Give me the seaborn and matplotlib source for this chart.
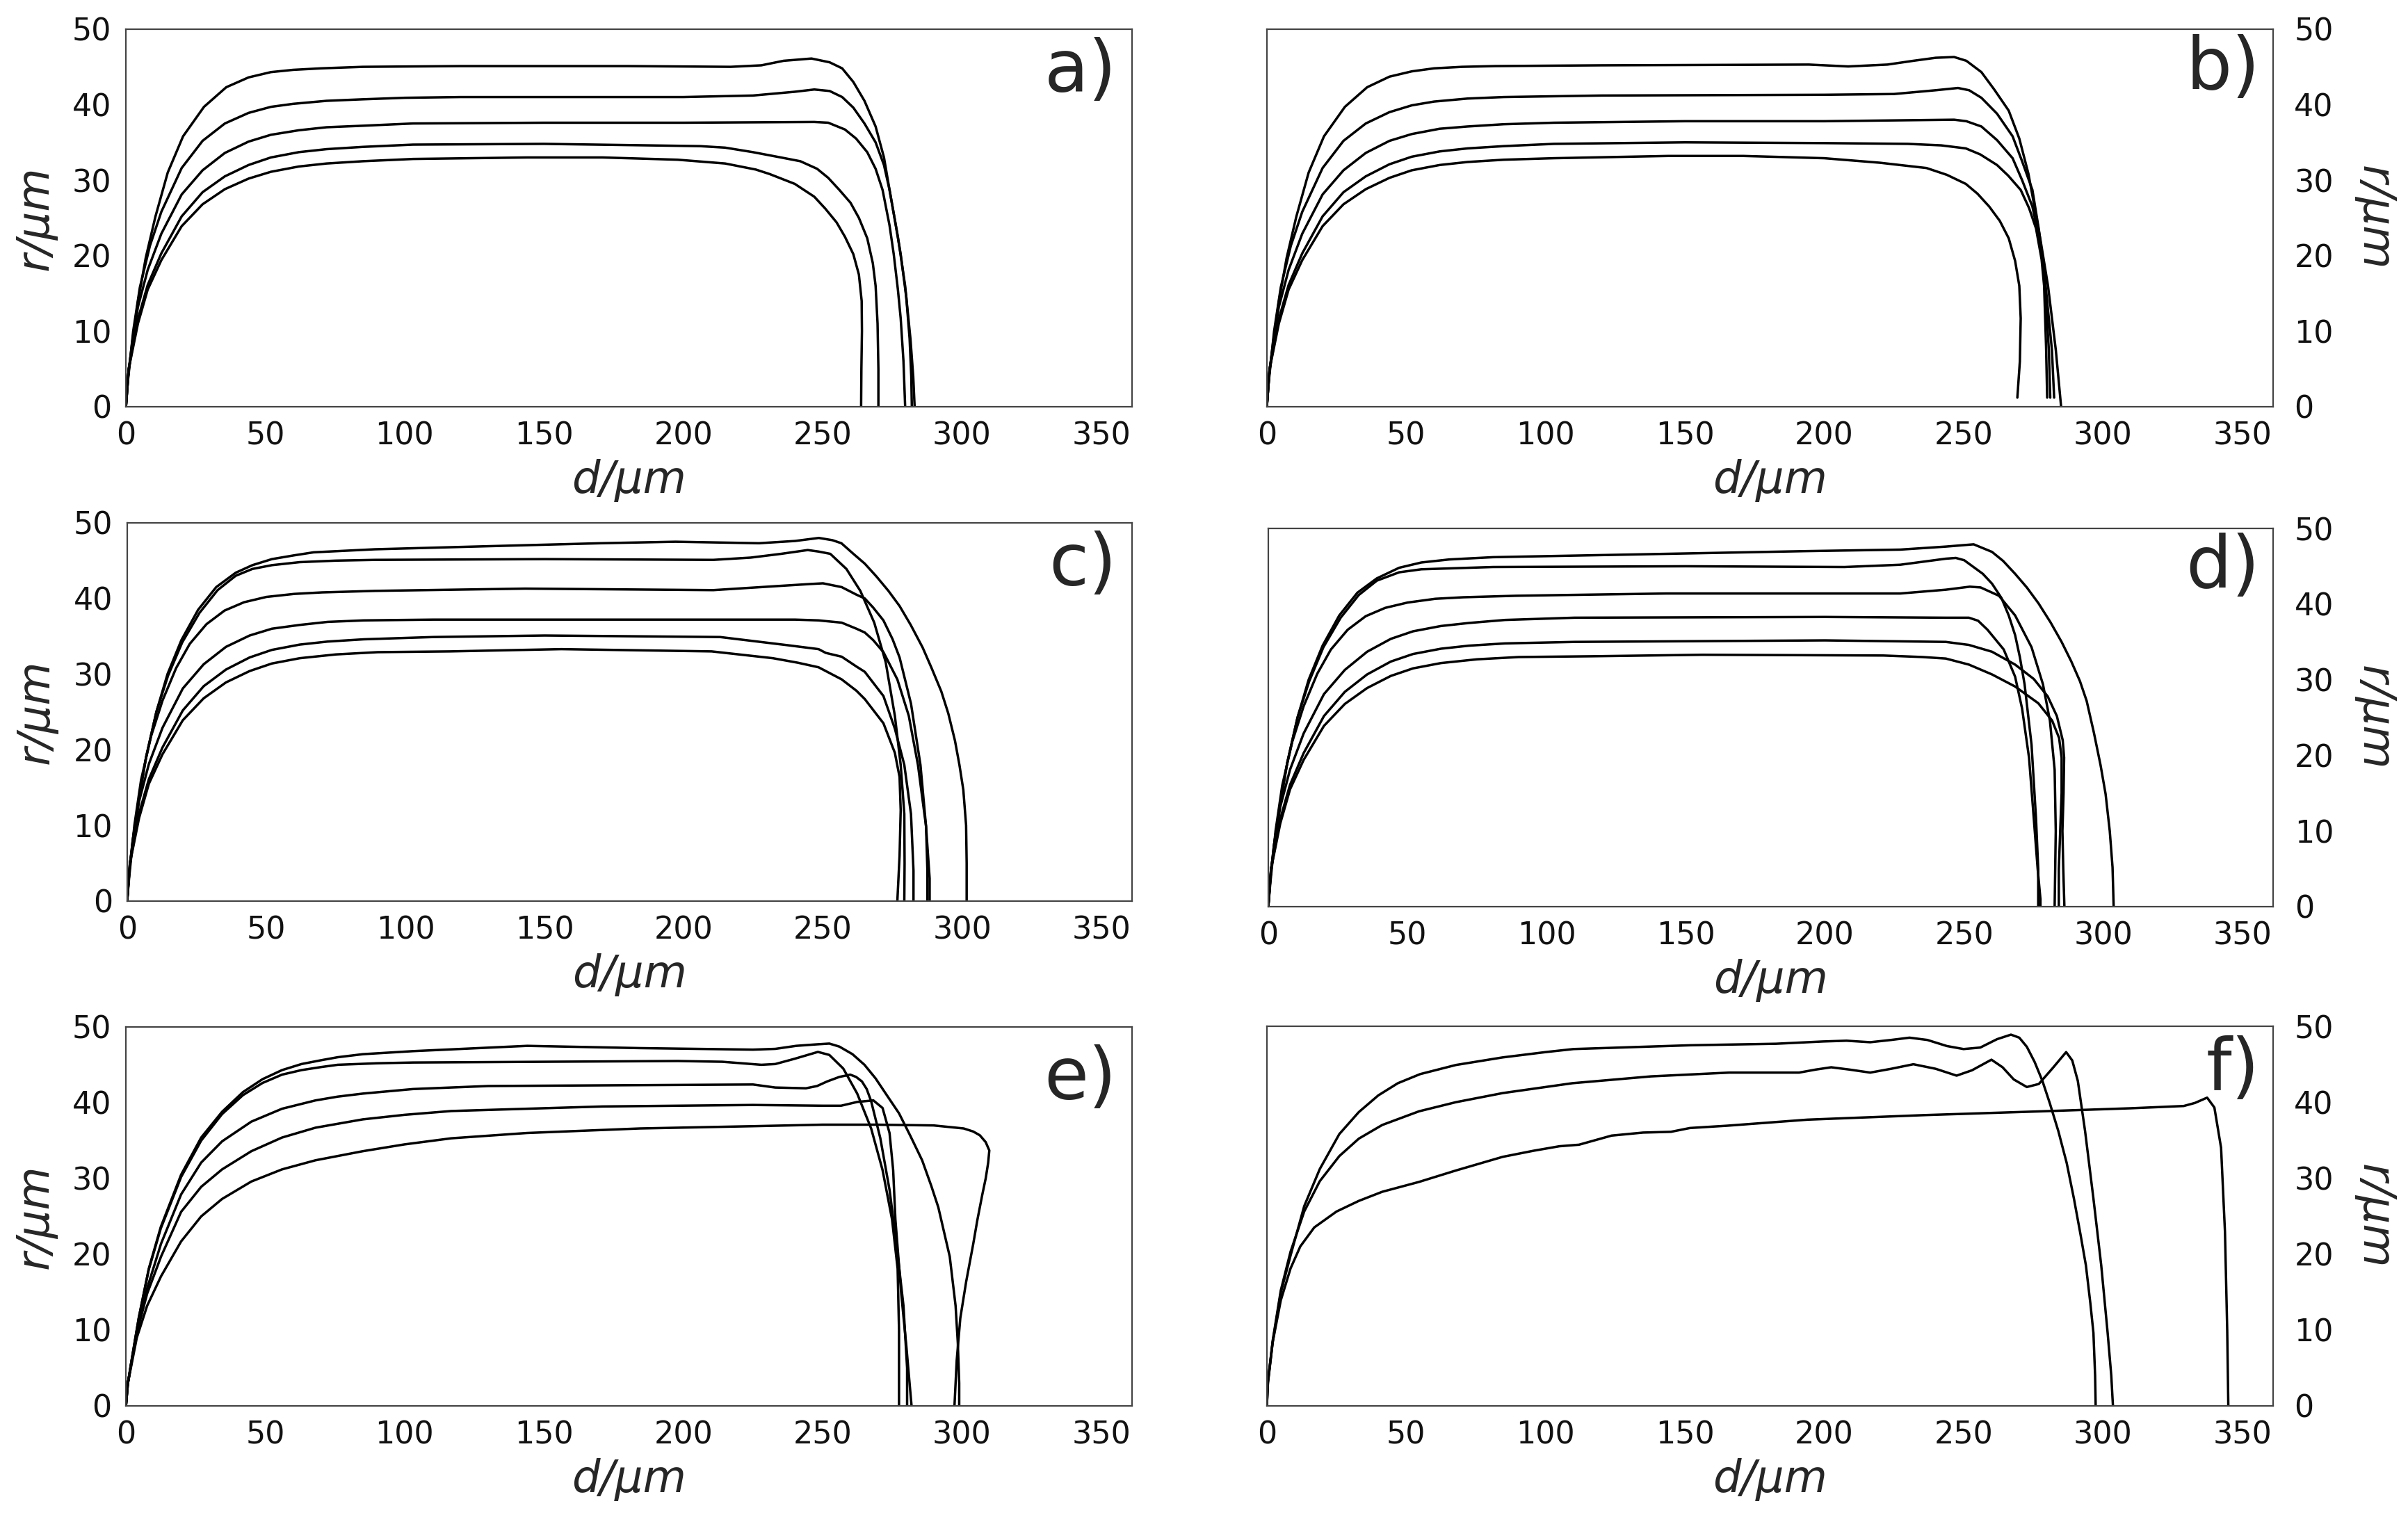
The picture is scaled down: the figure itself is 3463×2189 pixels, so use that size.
import matplotlib
matplotlib.use("Agg")
import matplotlib.pyplot as plt
import seaborn as sns


# ---- panel a -------------------------------------------------------------
A1_D = [0, 0.5, 2.2, 4.3, 7.1, 10.6, 15, 20.5, 28, 36, 44, 52, 60, 70, 85, 120, 180, 217, 228, 236, 246, 252.5, 257, 261, 265, 269, 272, 274, 277, 279.6, 281.5, 282.5, 283]
A1_R = [0, 3.2, 8.4, 13.9, 19.7, 25.2, 31, 35.8, 39.7, 42.3, 43.6, 44.3, 44.6, 44.8, 45.0, 45.1, 45.1, 45.0, 45.2, 45.8, 46.1, 45.6, 44.8, 43, 40.5, 37.1, 33, 28.7, 22.5, 16, 9, 4, 0]
A2_D = [0, 0.6, 2.6, 5, 8.6, 12.7, 20, 27.5, 35.5, 44, 52, 60, 72, 85, 100, 120, 200, 225, 240, 247, 252.5, 257, 261, 265, 269, 272, 274, 276, 278, 280, 281.2, 281.8, 282]
A2_R = [0, 3, 10, 15.8, 21.3, 25.8, 31.6, 35.2, 37.5, 38.9, 39.7, 40.1, 40.5, 40.7, 40.9, 41, 41, 41.2, 41.7, 42, 41.8, 41, 39.6, 37.5, 35, 32, 28.7, 24.5, 20.2, 14.5, 9, 4, 0]
A3_D = [0, 1, 4.3, 7.8, 12.7, 20, 27.5, 35.5, 44, 52, 62, 72, 85, 103, 150, 200, 247, 252, 258, 262, 266, 269, 271.5, 274, 275.5, 277, 278, 279, 279.6]
A3_R = [0, 5, 13.2, 18.1, 22.9, 28.1, 31.3, 33.6, 35.1, 36, 36.6, 37, 37.2, 37.5, 37.6, 37.6, 37.7, 37.6, 36.7, 35.5, 33.7, 31.5, 28.7, 24, 20.2, 15.5, 11.7, 6, 0]
A4_D = [0, 1, 4.3, 7.8, 12.7, 20, 27.5, 35.5, 44, 52, 62, 72, 85, 103, 150, 206, 215, 225, 235, 242, 248, 252, 256, 260, 263, 266, 268, 269, 269.7, 270, 270]
A4_R = [0, 5, 11.6, 16.1, 20.3, 25.2, 28.4, 30.5, 32, 33, 33.7, 34.1, 34.4, 34.7, 34.8, 34.5, 34.3, 33.7, 33, 32.5, 31.5, 30.3, 28.7, 27, 25, 22.3, 19, 16, 11, 5, 0]
A5_D = [0, 1, 4.3, 7.8, 12.7, 20, 27.5, 35.5, 44, 52, 62, 72, 85, 103, 144, 171, 198, 215, 226, 231, 240, 247, 251, 255, 258, 261, 263, 264, 264.1, 263.9, 263.8]
A5_R = [0, 5, 11, 15.5, 19.4, 23.9, 26.8, 28.8, 30.2, 31.1, 31.8, 32.2, 32.5, 32.8, 33, 33, 32.7, 32.2, 31.4, 30.8, 29.5, 27.8, 26.2, 24.4, 22.5, 20.2, 17.5, 14, 10, 5, 0]

# ---- panel b -------------------------------------------------------------
B1_D = [0, 0.5, 2.2, 4.3, 7.1, 10.6, 15, 20.5, 28, 36, 44, 52, 60, 70, 82, 120, 194.5, 208.6, 222.7, 232, 240, 246.6, 251, 256.4, 261, 266.2, 270, 273.3, 277.5, 280.3, 283.1, 285]
B1_R = [0, 3.2, 8.4, 13.9, 19.7, 25.2, 31, 35.8, 39.7, 42.3, 43.7, 44.4, 44.8, 45, 45.1, 45.2, 45.3, 45.05, 45.3, 45.8, 46.2, 46.3, 45.8, 44.3, 42, 39.2, 35.5, 30.8, 22.3, 16, 7.5, 0]
B2_D = [0, 0.6, 2.6, 5, 8.6, 12.7, 20, 27.5, 35.5, 44, 52, 60, 72, 85, 120, 200, 225, 240, 248, 252, 256.4, 262, 267.6, 271, 274.7, 277, 278.9, 281.7, 282.5]
B2_R = [0, 3, 10, 15.8, 21.3, 25.8, 31.6, 35.2, 37.5, 39, 39.9, 40.4, 40.8, 41, 41.2, 41.3, 41.4, 41.9, 42.2, 41.9, 40.9, 38.8, 35.8, 32.5, 28.7, 23.5, 18.1, 7.5, 1.2]
B3_D = [0, 1, 4.3, 7.8, 12.7, 20, 27.5, 35.5, 44, 52, 62, 72, 85, 103, 150, 200, 246.6, 251, 256.4, 262, 267.6, 271, 274.7, 277, 278.9, 280.6, 281.1]
B3_R = [0, 5, 13.2, 18.1, 22.9, 28.1, 31.3, 33.6, 35.2, 36.1, 36.8, 37.1, 37.4, 37.6, 37.8, 37.8, 38, 37.8, 37.1, 35.3, 32.9, 30, 26.5, 22.5, 18.1, 7.5, 1.2]
B4_D = [0, 1, 4.3, 7.8, 12.7, 20, 27.5, 35.5, 44, 52, 62, 72, 85, 103, 150, 200, 230, 242, 250.8, 256, 262, 266, 270.5, 273.5, 276, 278, 278.9, 279.6, 280]
B4_R = [0, 5, 11.6, 16.1, 20.3, 25.2, 28.4, 30.5, 32.1, 33.1, 33.8, 34.2, 34.5, 34.8, 35, 34.9, 34.8, 34.6, 34.2, 33.4, 32, 30.6, 28.7, 26.3, 23.6, 19.5, 16, 8, 1.2]
B5_D = [0, 1, 4.3, 7.8, 12.7, 20, 27.5, 35.5, 44, 52, 62, 72, 85, 103, 144, 171, 200, 220, 236.7, 244, 250.8, 255, 259.2, 263, 266.2, 268.5, 270, 270.5, 270.2, 269.3]
B5_R = [0, 5, 11, 15.5, 19.4, 23.9, 26.8, 28.8, 30.3, 31.3, 32, 32.4, 32.7, 32.9, 33.2, 33.2, 32.9, 32.3, 31.6, 30.7, 29.5, 28.2, 26.5, 24.6, 22.3, 19.3, 16, 11.7, 6, 1.2]

# ---- panel c -------------------------------------------------------------
C1_D = [0, 0.5, 2, 4, 6.8, 10.5, 14.5, 19.5, 25.5, 32, 39, 45, 52, 60, 67, 78, 89, 129, 170, 197, 227, 240, 248.5, 253.4, 256.6, 260.9, 265, 269.2, 273.5, 277.5, 281.5, 285.8, 289, 292.5, 295, 297.4, 299, 300.4, 301.4, 301.6, 301.6]
C1_R = [0, 3, 8, 13, 19, 25, 30, 34.5, 38.5, 41.5, 43.4, 44.4, 45.2, 45.7, 46.1, 46.3, 46.5, 46.9, 47.3, 47.5, 47.3, 47.6, 48, 47.7, 47.3, 45.9, 44.6, 42.9, 41, 39, 36.5, 33.5, 30.8, 27.7, 24.8, 21.2, 18, 14.7, 10, 5, 0]
C2_D = [0, 0.5, 2, 4, 6.8, 10.5, 14.7, 19.8, 26, 32.5, 39, 45, 52, 62, 75, 89, 150, 210.6, 224, 235, 244.5, 248.4, 252.6, 258.4, 263.4, 268.4, 272.5, 275.8, 277.9, 279.2, 279.3, 279.2]
C2_R = [0, 3, 8, 13, 19, 25, 29.8, 34.2, 38.1, 41.1, 43, 43.9, 44.4, 44.8, 45, 45.1, 45.2, 45.1, 45.4, 45.9, 46.4, 46.2, 45.9, 43.9, 41, 36.8, 31.6, 24.5, 18, 11.5, 5, 0]
C3_D = [0, 0.7, 2.6, 5, 8.6, 12.7, 17.6, 22.5, 28.5, 35, 42, 50, 60, 70, 89, 143, 210.6, 232, 245, 250, 256.7, 262, 265, 268, 271.7, 275, 277.5, 281.6, 285, 287, 287.5, 287.5]
C3_R = [0, 3, 10, 16, 21.8, 26.5, 30.8, 34, 36.6, 38.4, 39.5, 40.2, 40.6, 40.8, 41, 41.3, 41.1, 41.6, 41.9, 42, 41.5, 40.5, 40, 38.8, 37.1, 34.6, 32.2, 26.1, 18, 9.9, 4, 0]
C4_D = [0, 1, 4.3, 7.8, 12.7, 20, 27.5, 35.5, 44, 52, 62, 72, 85, 110, 200, 240, 248.4, 256.7, 262, 265, 268, 271.7, 276.7, 280.8, 284.1, 287, 288.3, 288.3]
C4_R = [0, 5, 13.2, 18.1, 22.9, 28.1, 31.3, 33.6, 35.1, 36, 36.5, 36.9, 37.1, 37.2, 37.2, 37.2, 37.1, 36.8, 36, 35.5, 34.5, 32.9, 29.3, 24.5, 18, 9.9, 3, 0]
C5_D = [0, 1, 4.3, 7.8, 12.7, 20, 27.5, 35.5, 44, 52, 62, 72, 85, 110, 150, 213, 237.7, 248.4, 251, 256.7, 262, 265, 271.7, 275.8, 279.2, 281.6, 282.5, 282.5]
C5_R = [0, 5, 11.6, 16.1, 20.3, 25.2, 28.4, 30.6, 32.2, 33.2, 33.9, 34.3, 34.6, 34.9, 35.1, 34.9, 33.8, 33.3, 32.8, 32.3, 31, 30.3, 27.1, 22.8, 18, 11.5, 4, 0]
C6_D = [0, 1, 4.3, 7.8, 12.7, 20, 27.5, 35.5, 44, 52, 62, 75, 90, 116, 156, 210, 232, 241, 248.4, 256.7, 262, 265, 271.7, 275.8, 277.5, 277.9, 277.5, 276.7]
C6_R = [0, 5, 11, 15.5, 19.4, 23.9, 26.8, 28.9, 30.4, 31.4, 32.1, 32.6, 32.9, 33, 33.3, 33, 32.1, 31.5, 30.9, 29.3, 27.8, 26.7, 23.5, 19.6, 16.4, 12, 6, 0]

# ---- panel d -------------------------------------------------------------
D1_D = [0, 0.5, 2, 4, 6.8, 10.5, 14.5, 19.5, 25.5, 32, 39, 47, 55, 65, 80.7, 137, 193, 227, 243.4, 253.4, 260, 264, 268.3, 272.5, 276.7, 281, 285, 288.5, 291.6, 294, 296.6, 299, 300.8, 302.3, 303.3, 303.7]
D1_R = [0, 3, 8, 13, 19, 25, 30, 34.5, 38.5, 41.5, 43.4, 44.8, 45.5, 45.9, 46.2, 46.6, 47, 47.2, 47.6, 47.9, 46.9, 45.7, 44, 42.2, 40.1, 37.6, 35, 32.4, 29.8, 27.2, 23, 18.7, 14.9, 10, 5.2, 0]
D2_D = [0, 0.5, 2, 4, 6.8, 10.5, 14.7, 19.8, 26, 32.5, 39, 47, 55, 80.7, 150, 207, 227, 243.4, 247, 250, 256.7, 260, 263.4, 266, 268.3, 270, 271.7, 274.2, 275.8, 276.6, 276.6]
D2_R = [0, 3, 8, 13, 19, 25, 29.8, 34.3, 38.2, 41.2, 43.1, 44.2, 44.6, 44.9, 45, 44.9, 45.2, 46, 46.1, 45.8, 44, 42.7, 40.8, 38.5, 35.9, 33, 29.4, 21.4, 11.7, 5, 0]
D3_D = [0, 0.7, 2.6, 5, 8.6, 12.7, 17.6, 22.5, 28.5, 35, 42, 50, 60, 70, 89, 143, 227, 243.4, 252, 255.9, 262.5, 268.3, 274.2, 278.3, 280.8, 282.5, 282.9, 282.7, 282.5]
D3_R = [0, 3, 10, 16, 21.8, 26.5, 30.8, 34, 36.6, 38.4, 39.5, 40.2, 40.7, 40.9, 41.1, 41.4, 41.4, 41.9, 42.3, 42.2, 41.1, 38.5, 34.3, 29.4, 24.6, 18.1, 10, 5, 0]
D4_D = [0, 1, 4.3, 7.8, 12.7, 20, 27.5, 35.5, 44, 52, 62, 72, 85, 110, 200, 243.4, 251.7, 255, 258.4, 264.2, 268.3, 270.8, 273.3, 275, 276.4, 277.4, 277.4]
D4_R = [0, 5, 13.2, 18.1, 22.9, 28.1, 31.3, 33.7, 35.4, 36.4, 37.1, 37.5, 37.9, 38.2, 38.3, 38.2, 38.2, 37.8, 36.6, 34, 30.4, 26.2, 19.7, 11.7, 5, 1, 0]
D5_D = [0, 1, 4.3, 7.8, 12.7, 20, 27.5, 35.5, 44, 52, 62, 72, 85, 110, 200, 243.4, 251.7, 260, 268.3, 275, 280, 283.3, 285.4, 285.9, 285.7, 285.3, 285.6, 286]
D5_R = [0, 5, 11.6, 16.1, 20.3, 25.2, 28.4, 30.7, 32.4, 33.4, 34.1, 34.5, 34.8, 35, 35.2, 35, 34.6, 33.7, 32, 30.1, 27.8, 25.2, 22, 19.7, 15, 10, 5, 0]
D6_D = [0, 1, 4.3, 7.8, 12.7, 20, 27.5, 35.5, 44, 52, 62, 75, 90, 116, 156, 221, 235, 243.4, 251.7, 260, 268.3, 276.6, 281.6, 284.1, 285, 285, 284.5, 284, 284]
D6_R = [0, 5, 11, 15.5, 19.4, 23.9, 26.8, 28.9, 30.5, 31.5, 32.2, 32.7, 33, 33.1, 33.3, 33.2, 33, 32.8, 32, 30.7, 29.1, 26.9, 24.6, 22.3, 19.7, 15, 10, 5, 0]

# ---- panel e -------------------------------------------------------------
E1_D = [0, 0.5, 1.8, 4.6, 8.2, 12.5, 19.8, 27, 34.5, 42, 49, 56, 63, 70, 76, 85, 103, 144, 184.5, 225, 233, 240.5, 248, 252.4, 256, 260.7, 265, 269, 273, 277.4, 281.5, 285.7, 289, 291.5, 295.6, 297.7, 298.5, 299, 299]
E1_R = [0, 2.5, 5.5, 11.6, 18.1, 23.6, 30.5, 35.4, 38.8, 41.4, 43.1, 44.3, 45.1, 45.6, 46, 46.4, 46.8, 47.5, 47.2, 47, 47.1, 47.5, 47.7, 47.8, 47.4, 46.4, 45, 43.2, 41, 38.6, 35.6, 32.4, 29, 26.2, 19.7, 13.2, 8.3, 3, 0]
E2_D = [0, 0.5, 1.8, 4.6, 8.2, 12.5, 19.8, 27, 34.5, 42, 49, 56, 63, 70, 76, 90, 103, 198, 214, 228, 233, 240, 248.3, 252.4, 257.4, 262.4, 267.4, 271.5, 274.9, 276.9, 277.4, 277.4]
E2_R = [0, 2.5, 5.5, 11.6, 18, 23.4, 30.2, 35, 38.5, 41, 42.6, 43.7, 44.3, 44.7, 45, 45.2, 45.3, 45.5, 45.4, 45, 45.1, 45.8, 46.7, 46.3, 44.5, 41.2, 36.6, 31.1, 24.6, 18.1, 10, 0]
E3_D = [0, 0.7, 3.9, 7.6, 12.6, 19.8, 27, 34.5, 45, 56, 68, 76, 85, 103, 130, 225, 233, 244, 248, 251.6, 256, 259.9, 262, 264.1, 265.8, 267.4, 270.7, 274, 276.5, 279, 280.3, 280.3]
E3_R = [0, 3, 9.9, 15.5, 21.4, 27.9, 32.1, 34.9, 37.5, 39.2, 40.3, 40.8, 41.2, 41.8, 42.2, 42.4, 42, 41.9, 42.2, 42.8, 43.4, 43.7, 43.4, 42.8, 41.8, 40.2, 35.3, 28.5, 21.3, 13.2, 5, 0]
E4_D = [0, 0.7, 3.9, 7.6, 12.6, 19.8, 27, 34.5, 45, 56, 68, 85, 100, 116.7, 171, 225, 250, 256.6, 262.4, 268.2, 271.5, 274, 275.3, 276.1, 278.2, 280, 281.9]
E4_R = [0, 3, 9.6, 14.8, 19.7, 25.6, 28.9, 31.2, 33.6, 35.4, 36.7, 37.8, 38.4, 38.9, 39.5, 39.7, 39.6, 39.6, 40.1, 40.3, 39.3, 36, 31.1, 24.6, 14.8, 8, 0]
E5_D = [0, 0.7, 3.9, 7.6, 12.6, 19.8, 27, 34.5, 45, 56, 68, 85, 100, 116.7, 143.8, 184.5, 225, 250, 269, 289.8, 300.6, 304, 306.4, 308.5, 309.8, 309.4, 308.5, 307.3, 305.5, 304, 301.5, 299.4, 298.1, 297.3]
E5_R = [0, 3, 9, 13.2, 17.1, 21.7, 25, 27.3, 29.6, 31.2, 32.4, 33.6, 34.5, 35.3, 36, 36.6, 36.9, 37.1, 37.1, 37, 36.6, 36.2, 35.7, 34.8, 33.7, 32.1, 30, 27.9, 24.5, 21.3, 16.4, 11.6, 6, 0]

# ---- panel f -------------------------------------------------------------
F1_D = [0, 0.4, 2.1, 5, 8.5, 13.4, 19, 26, 33, 40, 47, 55, 67.8, 84.6, 100, 110, 151.8, 182.7, 199.6, 208, 216.5, 224, 230.6, 237, 244, 250, 256, 262, 267, 270, 272.7, 275.5, 278.3, 281, 284, 287, 289.6, 292, 293.9, 295.5, 296.6, 297.2, 297.4]
F1_R = [0, 3, 8.4, 14.9, 19.8, 26.3, 31.2, 35.8, 38.7, 40.9, 42.5, 43.7, 44.9, 45.9, 46.6, 47, 47.5, 47.7, 48, 48.1, 47.9, 48.2, 48.5, 48.2, 47.4, 47, 47.2, 48.3, 48.9, 48.5, 47.3, 45.3, 42.8, 39.8, 36.2, 32, 27.3, 22.5, 18.5, 13.5, 9.6, 4, 0]
F2_D = [0, 0.4, 2.1, 5, 8.5, 13.4, 19, 26, 33, 41.4, 54.6, 67.8, 84.6, 109.6, 137.8, 165.9, 191, 197, 202.5, 209, 216.5, 224, 232, 240, 247.5, 253, 260, 264, 268, 272.7, 277, 282, 286.8, 289, 291, 293.6, 296.6, 299.4, 301.7, 303, 303.6]
F2_R = [0, 3.2, 8.6, 15.2, 20.3, 25.6, 29.6, 32.9, 35.2, 37, 38.8, 40, 41.2, 42.5, 43.4, 43.9, 43.9, 44.3, 44.6, 44.3, 43.9, 44.4, 45, 44.4, 43.5, 44.2, 45.6, 44.6, 43, 42, 42.4, 44.5, 46.6, 45.5, 42.8, 36.2, 27.3, 18.5, 9.6, 4, 0]
F3_D = [0, 0.3, 2.1, 5, 8.5, 12, 17, 25, 33, 41.4, 54.6, 67.8, 84.6, 95.6, 105, 112, 123.7, 135, 145, 151.8, 165, 194, 236, 278, 310, 329, 333, 337.4, 340, 342.4, 343.8, 344.6, 345]
F3_R = [0, 3, 8.4, 13.9, 18.1, 21, 23.5, 25.6, 27, 28.2, 29.5, 31, 32.8, 33.6, 34.2, 34.4, 35.6, 36, 36.1, 36.6, 36.9, 37.7, 38.3, 38.8, 39.2, 39.5, 39.9, 40.6, 39.3, 34, 22.9, 10, 0]

PANEL_LABELS = ["a)", "b)", "c)", "d)", "e)", "f)"]
PANEL_CURVES = [
    [(A1_D, A1_R), (A2_D, A2_R), (A3_D, A3_R), (A4_D, A4_R), (A5_D, A5_R)],
    [(B1_D, B1_R), (B2_D, B2_R), (B3_D, B3_R), (B4_D, B4_R), (B5_D, B5_R)],
    [(C1_D, C1_R), (C2_D, C2_R), (C3_D, C3_R), (C4_D, C4_R), (C5_D, C5_R), (C6_D, C6_R)],
    [(D1_D, D1_R), (D2_D, D2_R), (D3_D, D3_R), (D4_D, D4_R), (D5_D, D5_R), (D6_D, D6_R)],
    [(E1_D, E1_R), (E2_D, E2_R), (E3_D, E3_R), (E4_D, E4_R), (E5_D, E5_R)],
    [(F1_D, F1_R), (F2_D, F2_R), (F3_D, F3_R)],
]
X_TICKS = [0, 50, 100, 150, 200, 250, 300, 350]
Y_TICKS = [0, 10, 20, 30, 40, 50]

# axes boxes in figure fractions: left, bottom, width, height
AXES_BOXES = [
    [0.0523, 0.7328, 0.4178, 0.2481],
    [0.5261, 0.7328, 0.4178, 0.2481],
    [0.0528, 0.4080, 0.4173, 0.2485],
    [0.5267, 0.4043, 0.4173, 0.2485],
    [0.0523, 0.0763, 0.4178, 0.2490],
    [0.5261, 0.0763, 0.4178, 0.2494],
]
LABEL_Y = [0.886, 0.894, 0.886, 0.897, 0.861, 0.883]


def main() -> None:
    sns.set_theme(style="white")
    plt.rcParams["font.family"] = ["DejaVu Sans"]

    fig = plt.figure(figsize=(34.63, 21.89), dpi=100)

    for i, box in enumerate(AXES_BOXES):
        ax = fig.add_axes(box)
        for d, r in PANEL_CURVES[i]:
            sns.lineplot(x=d, y=r, sort=False, estimator=None, color="black",
                         linewidth=2.5, ax=ax)

        ax.set_xlim(0, 361)
        ax.set_ylim(0, 50)
        ax.set_xticks(X_TICKS)
        ax.set_yticks(Y_TICKS)
        ax.tick_params(length=0, labelsize=32, colors="#111111")
        ax.tick_params(axis="x", pad=15)
        for spine in ax.spines.values():
            spine.set_visible(True)
            spine.set_color("#444444")
            spine.set_linewidth(1.6)

        ax.set_xlabel("d/μm", fontsize=46, style="italic", labelpad=8)
        right = i % 2 == 1
        if right:
            ax.yaxis.tick_right()
            ax.yaxis.set_label_position("right")
            ax.tick_params(axis="y", pad=22)
            ax.set_ylabel("r/μm", fontsize=46, style="italic", rotation=-90,
                          va="bottom", labelpad=20)
        else:
            ax.tick_params(axis="y", pad=15)
            ax.set_ylabel("r/μm", fontsize=46, style="italic", labelpad=16)

        ax.text(0.987 if right else 0.985, LABEL_Y[i], PANEL_LABELS[i],
                transform=ax.transAxes, ha="right", va="center", fontsize=75)

    fig.savefig("out.png", dpi=100)
    plt.close(fig)


if __name__ == "__main__":
    main()
